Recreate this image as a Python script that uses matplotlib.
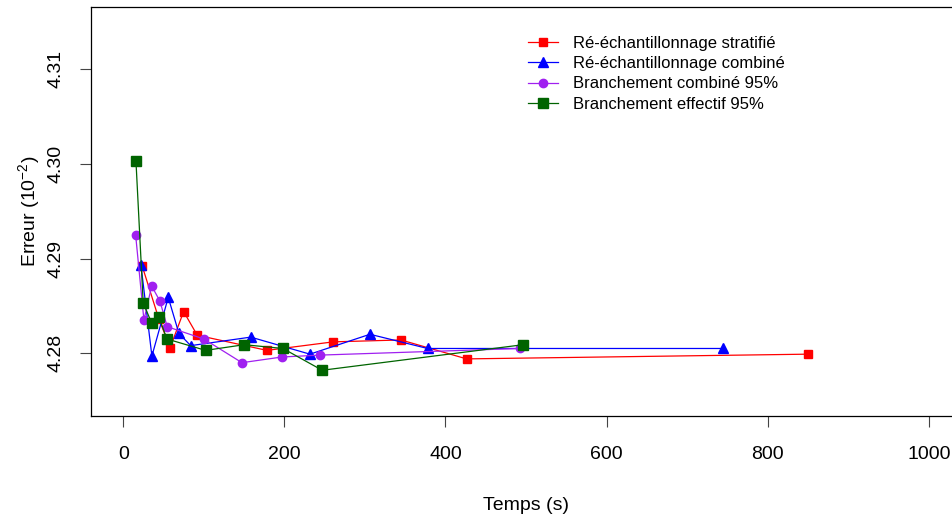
import numpy as np
import matplotlib
matplotlib.use("Agg")
import matplotlib.pyplot as plt

plt.rcParams['font.family'] = ['Liberation Sans', 'DejaVu Sans']
plt.rcParams['mathtext.fontset'] = 'custom'
plt.rcParams['mathtext.rm'] = 'Liberation Sans'
plt.rcParams['mathtext.it'] = 'Liberation Sans'

# --- data (temps en s, erreur en 10^-2) ---
strat_t = [23.6, 44.3, 58.3, 75.0, 91.9, 178.4, 260.7, 344.8, 426.3, 850.4]
strat_e = [4.2892, 4.2836, 4.2806, 4.2844, 4.2819, 4.2803, 4.2812, 4.2814, 4.2794, 4.2799]

comb_t = [22.0, 35.6, 55.9, 69.1, 83.7, 158.3, 231.8, 306.3, 377.9, 744.9]
comb_e = [4.2893, 4.2797, 4.2859, 4.2821, 4.2808, 4.2817, 4.2799, 4.2820, 4.2805, 4.2805]

bcomb_t = [15.4, 25.7, 35.3, 45.6, 54.6, 100.2, 147.4, 197.0, 244.2, 492.5]
bcomb_e = [4.2925, 4.2835, 4.2871, 4.2855, 4.2828, 4.2815, 4.2790, 4.2796, 4.2798, 4.2805]

beff_t = [15.8, 24.8, 35.3, 44.3, 54.3, 102.3, 150.2, 198.3, 247.0, 496.6]
beff_e = [4.3003, 4.2853, 4.2832, 4.2838, 4.2815, 4.2803, 4.2809, 4.2805, 4.2782, 4.2809]

SERIES = [
    ("Ré-échantillonnage stratifié", strat_t, strat_e, "#FF0000", "s", 6),
    ("Ré-échantillonnage combiné", comb_t, comb_e, "#0000FF", "^", 6.5),
    ("Branchement combiné 95%", bcomb_t, bcomb_e, "#A020F0", "o", 6),
    ("Branchement effectif 95%", beff_t, beff_e, "#006400", "s", 7),
]

fig = plt.figure(figsize=(9.52, 5.21), dpi=100)
ax = fig.add_axes([91 / 952, 1 - 415.7 / 521, (961 - 91) / 952, (415.7 - 6.7) / 521])

for label, t, e, col, mk, ms in SERIES:
    ax.plot(t, e, color=col, marker=mk, markersize=ms, linewidth=0.9, label=label)

# R-style axes: 4% extension of xlim=c(0,1000), ylim=c(4.275,4.315)
ax.set_xlim(-40, 1040)
ax.set_ylim(4.2734, 4.3166)
ax.set_xticks([0, 200, 400, 600, 800, 1000])
ax.set_yticks([4.28, 4.29, 4.30, 4.31])
ax.set_yticklabels(["4.28", "4.29", "4.30", "4.31"], rotation=90, va="center")

ax.tick_params(axis="both", labelsize=14, length=8, width=0.8, color="#444444")
ax.tick_params(axis="x", pad=14)
ax.tick_params(axis="y", pad=11)
for s in ax.spines.values():
    s.set_linewidth(0.9)

ax.set_xlabel("Temps (s)", fontsize=14, labelpad=24)
ax.set_ylabel("Erreur (10$^{-2}$)", fontsize=14, labelpad=4)

ax.legend(loc="upper left", bbox_to_anchor=(0.5025, 0.928), frameon=False,
          fontsize=12, handlelength=1.8, handletextpad=0.9,
          labelspacing=0.31, borderpad=0, borderaxespad=0)

fig.savefig("out.png", dpi=100)
